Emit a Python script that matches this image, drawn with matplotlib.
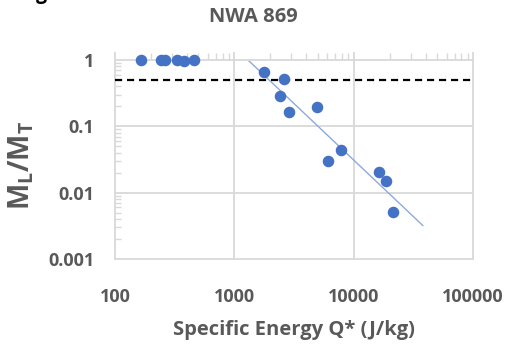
import numpy as np
import matplotlib
matplotlib.use("Agg")
import matplotlib.pyplot as plt
from matplotlib.ticker import LogLocator, NullFormatter, FixedLocator

plt.rcParams['font.family'] = ['Open Sans', 'DejaVu Sans']
plt.rcParams['mathtext.fontset'] = 'custom'
plt.rcParams['mathtext.rm'] = 'Open Sans'
plt.rcParams['mathtext.bf'] = 'Open Sans:bold'
plt.rcParams['mathtext.it'] = 'Open Sans:italic'

# ---- data ----
title = "NWA 869"
x_label = "Specific Energy Q* (J/kg)"
q_values = [164, 243, 260, 331, 380, 457, 1766, 2630, 2414, 2860, 4960,
            7880, 6140, 16400, 18750, 21300]
m_values = [1.0, 1.0, 1.0, 1.0, 0.97, 1.0, 0.65, 0.515, 0.288, 0.165, 0.197,
            0.0444, 0.0305, 0.0208, 0.0148, 0.0052]
threshold = 0.5
trend_range = [1225, 38000]
x_ticks = [100, 1000, 10000, 100000]
x_ticklabels = ["100", "1000", "10000", "100000"]
y_ticks = [0.001, 0.01, 0.1, 1]
y_ticklabels = ["0.001", "0.01", "0.1", "1"]

grey = "#595959"
grid_c = "#d9d9d9"

fig = plt.figure(figsize=(5.09, 3.45), dpi=100)
ax = fig.add_axes([115/509, 1-259/345, (473-115)/509, (259-60)/345])
ax.set_xscale('log')
ax.set_yscale('log')
ax.set_xlim(x_ticks[0], x_ticks[-1])
ax.set_ylim(y_ticks[0], y_ticks[-1])

# gridlines
for yv in y_ticks[1:-1]:
    ax.axhline(yv, color=grid_c, lw=1.3, zorder=0)
for xv in x_ticks[1:-1]:
    ax.axvline(xv, color=grid_c, lw=1.3, zorder=0)

# power-law trend fitted to the fragmented points
q = np.array(q_values, float)
m = np.array(m_values, float)
sel = m < 0.9
b, loga = np.polyfit(np.log10(q[sel]), np.log10(m[sel]), 1)
tq = np.logspace(np.log10(trend_range[0]), np.log10(trend_range[1]), 50)
ax.plot(tq, 10**loga * tq**b, color="#8eaadb", lw=1.0, zorder=2)

ax.axhline(threshold, color="black", lw=1.6, ls=(0, (3.2, 2.2)), zorder=3)

ax.plot(q, m, 'o', color="#4472c4", ms=7.3, mec="#4472c4", zorder=4, clip_on=False)

# spines
for s in ['left', 'right', 'top', 'bottom']:
    ax.spines[s].set_color(grid_c)
    ax.spines[s].set_linewidth(1.3)

# x axis ticks: marks on top, labels at bottom
ax.xaxis.set_major_locator(FixedLocator(x_ticks))
ax.xaxis.set_minor_locator(LogLocator(base=10, subs=np.arange(2, 10)))
ax.xaxis.set_minor_formatter(NullFormatter())
ax.tick_params(axis='x', which='both', top=True, bottom=False,
               labeltop=False, labelbottom=True, direction='out', color=grid_c)
ax.tick_params(axis='x', which='major', length=6, width=1.3, pad=15)
ax.tick_params(axis='x', which='minor', length=5, width=1.0)
ax.set_xticklabels(x_ticklabels)

ax.yaxis.set_major_locator(FixedLocator(y_ticks))
ax.yaxis.set_minor_locator(LogLocator(base=10, subs=np.arange(2, 10)))
ax.yaxis.set_minor_formatter(NullFormatter())
ax.tick_params(axis='y', which='both', left=True, right=False, direction='in', color=grid_c)
ax.tick_params(axis='y', which='major', length=0, pad=15)
ax.tick_params(axis='y', which='minor', length=4.5, width=1.0)
ax.set_yticklabels(y_ticklabels)

for lab in ax.get_xticklabels() + ax.get_yticklabels():
    lab.set_fontsize(13)
    lab.set_fontweight('bold')
    lab.set_color(grey)

fig.text(253/509, 1-17/345, title, ha='center', va='center',
         fontsize=14.5, fontweight='bold', color=grey)
fig.text(294/509, 1-330/345, x_label, ha='center', va='center',
         fontsize=14.5, fontweight='bold', color=grey)
fig.text(21/509, 1-165/345, r'$\mathbf{M_L/M_T}$', ha='center', va='center',
         rotation=90, fontsize=20, color=grey)
# clipped glyph from neighbouring panel label
fig.text(41/509, 1+6/345, "g", ha='center', va='center',
         fontsize=14, fontweight='bold', color='black')

fig.savefig("out.png", dpi=100)
